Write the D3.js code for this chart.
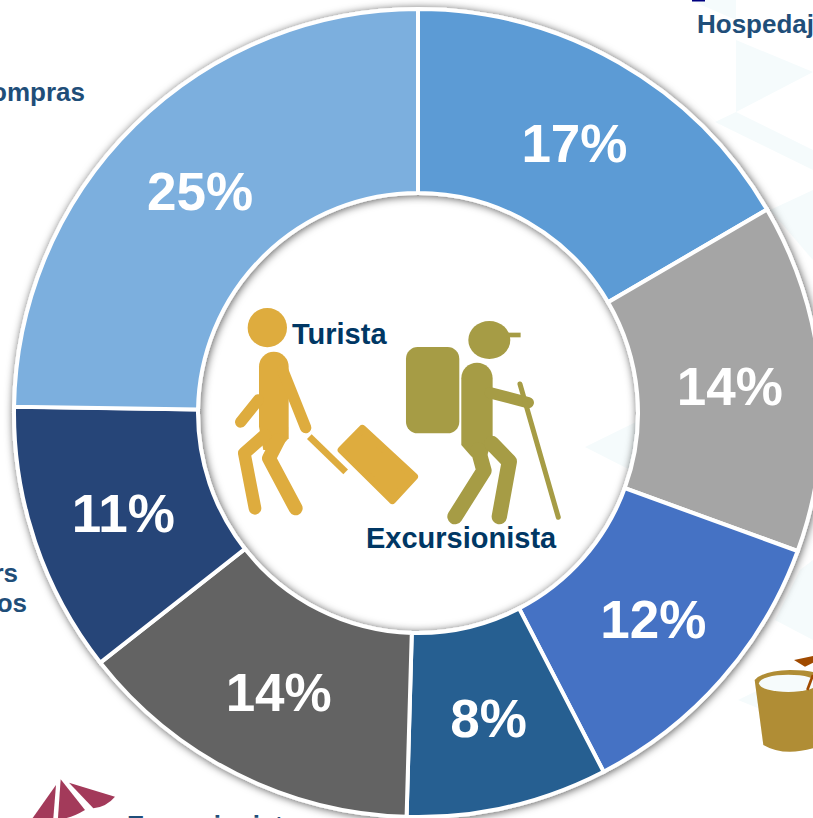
<!DOCTYPE html>
<meta charset="utf-8">
<style>
body { margin: 0; background: #fff; overflow: hidden; }
text { font-family: "Liberation Sans", Arial, sans-serif; font-weight: bold; }
.pct { fill: #fff; font-size: 53px; text-anchor: middle; }
.side { fill: #1f4e79; font-size: 26px; }
.inner { fill: #003764; font-size: 29px; }
</style>
<body>
<script src="https://d3js.org/d3.v7.min.js"></script>
<script>

// slice sizes (share of the ring)
var shares = [16.6, 13.95, 11.85, 8.05, 13.95, 10.85, 24.75];
// the numbers printed on the slices
var labels = ["17%", "14%", "12%", "8%", "14%", "11%", "25%"];
var colors = ["#5b9bd5", "#a5a5a5", "#4472c4", "#255e91", "#636363", "#264478", "#7cafde"];

// outside labels, mostly cut off by the page edge
var sideText = ["Hospedaje", "Compras", "rs", "os", "Excursionistas"];
var sideX = [697, 85, 18, 27, 127];
var sideY = [33, 101, 582, 612, 834];
var sideAnchor = ["start", "end", "end", "end", "start"];

var width = 813, height = 818,
    cx = 418, cy = 413,
    outer = 404, inner = 220;

var svg = d3.select("body").append("svg")
    .attr("width", width)
    .attr("height", height);

var defs = svg.append("defs");
var shadow = defs.append("filter").attr("id", "shadow")
    .attr("x", "-10%").attr("y", "-10%").attr("width", "120%").attr("height", "120%");
shadow.append("feDropShadow")
    .attr("dx", 1).attr("dy", 1)
    .attr("stdDeviation", 4.5)
    .attr("flood-color", "#000")
    .attr("flood-opacity", 0.65);

// pale background shapes
var paleShapes = [
  "736,0 690,0 736,20",
  "736,40 813,72 736,112",
  "736,112 715,122 813,170 813,150",
  "770,210 813,190 813,260",
  "585,447 640,420 640,475",
  "800,570 813,560 813,640 775,620",
  "738,700 775,682 775,715"
];
svg.append("g").selectAll("polygon")
    .data(paleShapes)
  .enter().append("polygon")
    .attr("points", function(d) { return d; })
    .attr("fill", "#f5fbfc");

// side labels
svg.append("g").selectAll("text")
    .data(sideText)
  .enter().append("text")
    .attr("class", "side")
    .attr("x", function(d, i) { return sideX[i]; })
    .attr("y", function(d, i) { return sideY[i]; })
    .attr("text-anchor", function(d, i) { return sideAnchor[i]; })
    .text(function(d) { return d; });

svg.append("rect").attr("x", 692).attr("y", 0).attr("width", 13).attr("height", 1.5).attr("fill", "#000080");

// decorations around the ring
var umbrella = svg.append("g").attr("transform", "translate(0,540) scale(0.3333)").attr("fill", "#a33a5a");
umbrella.append("path").attr("d", "M168,735L98,834H160Z");
umbrella.append("path").attr("d", "M182,718L255,810Q225,828 200,834H174Z");
umbrella.append("path").attr("d", "M207,728L345,770Q320,800 280,805Z");

var cup = svg.append("g").attr("transform", "translate(650,540) scale(0.3333)");
cup.append("path").attr("fill", "#a04a00").attr("d", "M432,360L489,348V368L465,380Z");
cup.append("path").attr("d", "M340,615L314,420Q340,392 420,390Q470,390 489,396V625Q400,650 340,615Z").attr("fill", "#b08d35");
cup.append("ellipse").attr("cx", 415).attr("cy", 430).attr("rx", 88).attr("ry", 26).attr("fill", "#f6fbfc");
cup.append("path").attr("stroke", "#a04a00").attr("stroke-width", 8).attr("d", "M472,450L489,405");

// the ring
var pie = d3.pie().sort(null).value(function(d) { return d; });
var arc = d3.arc().innerRadius(inner).outerRadius(outer);
var arcs = pie(shares);

var ring = svg.append("g")
    .attr("transform", "translate(" + cx + "," + cy + ")");

ring.append("g")
    .attr("filter", "url(#shadow)")
  .selectAll("path")
    .data(arcs)
  .enter().append("path")
    .attr("d", arc)
    .attr("fill", function(d, i) { return colors[i]; })
    .attr("stroke", "#fff")
    .attr("stroke-width", 4);

ring.selectAll("text")
    .data(arcs)
  .enter().append("text")
    .attr("class", "pct")
    .attr("x", function(d) { return arc.centroid(d)[0] + 1; })
    .attr("y", function(d) { return arc.centroid(d)[1] + 19.5; })
    .text(function(d, i) { return labels[i]; });

// figures, drawn in the coordinates of a 3x crop
function limb(g, d, w, color, cap) {
  g.append("path")
      .attr("d", d)
      .attr("fill", "none")
      .attr("stroke", color)
      .attr("stroke-width", w)
      .attr("stroke-linecap", cap || "round")
      .attr("stroke-linejoin", "round");
}

var gold = "#deac3e", olive = "#a69c45";
var figures = svg.append("g").attr("transform", "translate(200,280) scale(0.3333)");

// tourist
figures.append("circle").attr("cx", 202).attr("cy", 143).attr("r", 59).attr("fill", gold);
figures.append("path").attr("fill", gold)
    .attr("d", "M177,260A44,44 0 0 1 266,260V475L235,510H190L177,440Z");
limb(figures, "M175,360L122,426", 34, gold);
limb(figures, "M248,270L317,443", 34, gold);
limb(figures, "M195,465L133,520L165,685", 38, gold);
limb(figures, "M235,480L207,535L287,685", 42, gold);
figures.append("path").attr("fill", gold).attr("stroke", gold).attr("stroke-width", 24).attr("stroke-linejoin", "round")
    .attr("d", "M487,447L642,590L577,660L425,510Z");
limb(figures, "M328,470L437,576", 20, gold, "butt");

// hiker
figures.append("ellipse").attr("cx", 868).attr("cy", 180).attr("rx", 63).attr("ry", 57).attr("fill", olive);
figures.append("rect").attr("x", 920).attr("y", 158).attr("width", 42).attr("height", 14).attr("fill", olive);
figures.append("rect").attr("x", 618).attr("y", 201).attr("width", 160).attr("height", 259).attr("rx", 35).attr("fill", olive);
figures.append("path").attr("fill", olive)
    .attr("d", "M784,295A47,47 0 0 1 878,295V480L860,530H815L784,495Z");
limb(figures, "M870,338L985,368", 34, olive);
limb(figures, "M960,312L1075,712", 15, olive);
limb(figures, "M835,510L852,572L765,710", 46, olive);
limb(figures, "M875,490L928,545L898,710", 46, olive);

// centre names
svg.append("text").attr("class", "inner").attr("x", 292).attr("y", 344).text("Turista");
svg.append("text").attr("class", "inner").attr("x", 366).attr("y", 548).text("Excursionista");

</script>
</body>
